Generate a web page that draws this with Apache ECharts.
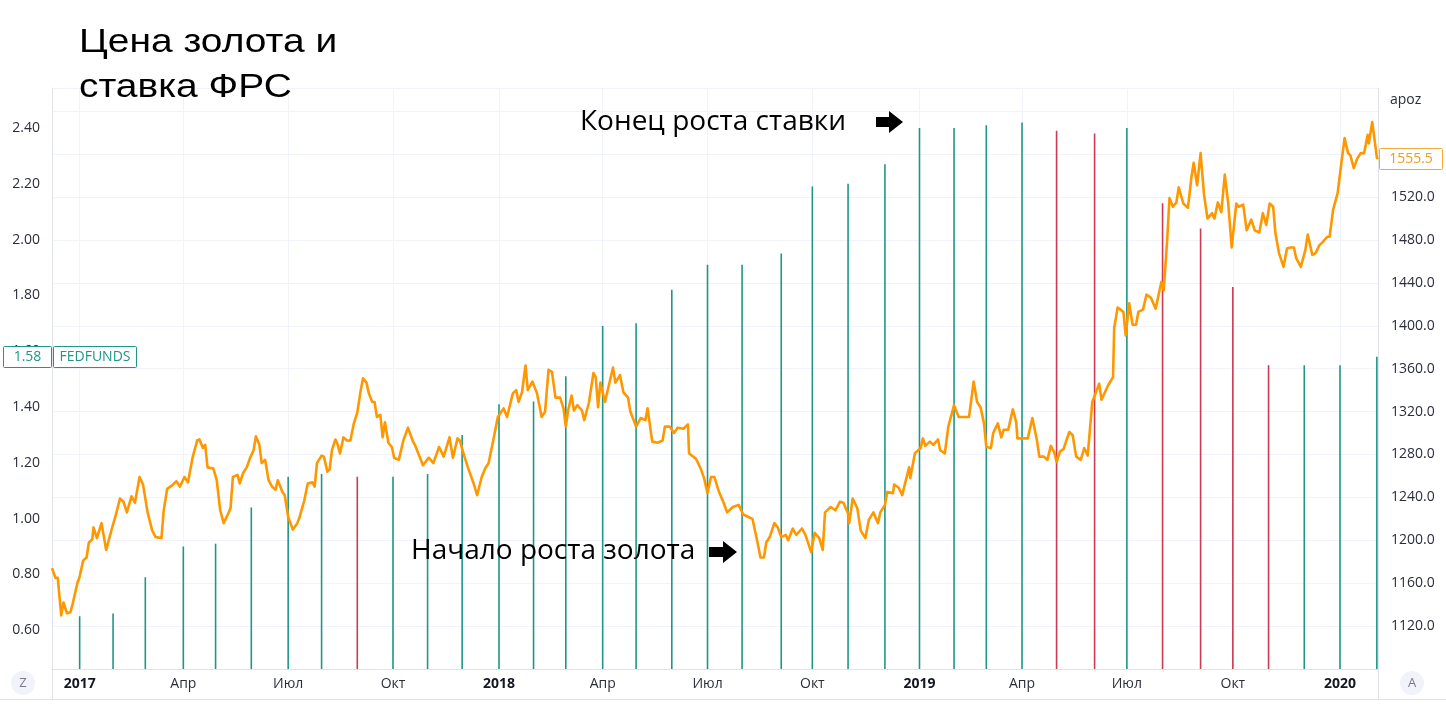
<!DOCTYPE html>
<html><head><meta charset="utf-8">
<script src="https://cdn.jsdelivr.net/npm/echarts@6/dist/echarts.min.js"></script>
<style>html,body{margin:0;padding:0;background:#fff}#c{width:1446px;height:705px}</style>
</head><body><div id="c"></div>
<script>
// FEDFUNDS monthly values (first trading day of each month)
const fedDates = [
 '2017-01-03','2017-02-01','2017-03-01','2017-04-03','2017-05-01','2017-06-01','2017-07-03','2017-08-01','2017-09-01','2017-10-02','2017-11-01','2017-12-01',
 '2018-01-02','2018-02-01','2018-03-01','2018-04-02','2018-05-01','2018-06-01','2018-07-02','2018-08-01','2018-09-04','2018-10-01','2018-11-01','2018-12-03',
 '2019-01-02','2019-02-01','2019-03-01','2019-04-01','2019-05-01','2019-06-03','2019-07-01','2019-08-01','2019-09-03','2019-10-01','2019-11-01','2019-12-02',
 '2020-01-02','2020-02-03'];
const fedValues = [
 0.65,0.66,0.79,0.90,0.91,1.04,1.15,1.16,1.15,1.15,1.16,1.30,
 1.41,1.42,1.51,1.69,1.70,1.82,1.91,1.91,1.95,2.19,2.20,2.27,
 2.40,2.40,2.41,2.42,2.39,2.38,2.40,2.13,2.04,1.83,1.55,1.55,
 1.55,1.58];
// Gold price
const goldData = [
 ['2016-12-10',1174],['2016-12-13',1165],['2016-12-15',1165],['2016-12-18',1130],['2016-12-20',1142],['2016-12-23',1132],['2016-12-26',1133],['2016-12-28',1141],
 ['2017-01-01',1160],['2017-01-03',1166],['2017-01-06',1181],['2017-01-09',1184],['2017-01-11',1198],['2017-01-14',1201],['2017-01-15',1212],['2017-01-18',1202],['2017-01-22',1216],['2017-01-26',1191],['2017-01-31',1211],
 ['2017-02-03',1222],['2017-02-07',1239],['2017-02-10',1236],['2017-02-13',1226],['2017-02-17',1241],['2017-02-20',1235],['2017-02-24',1259],['2017-02-27',1252],
 ['2017-03-03',1226],['2017-03-07',1209],['2017-03-10',1203],['2017-03-15',1202],['2017-03-17',1228],['2017-03-20',1248],['2017-03-24',1251],['2017-03-28',1255],['2017-03-31',1250],
 ['2017-04-04',1259],['2017-04-07',1254],['2017-04-11',1277],['2017-04-15',1293],['2017-04-17',1294],['2017-04-20',1286],['2017-04-22',1289],['2017-04-24',1268],['2017-04-29',1267],
 ['2017-05-02',1256],['2017-05-05',1228],['2017-05-08',1216],['2017-05-12',1225],['2017-05-14',1230],['2017-05-16',1259],['2017-05-20',1261],['2017-05-22',1253],['2017-05-25',1263],['2017-05-28',1268],['2017-05-31',1277],
 ['2017-06-03',1284],['2017-06-05',1297],['2017-06-08',1289],['2017-06-10',1272],['2017-06-13',1275],['2017-06-16',1256],['2017-06-19',1250],['2017-06-22',1247],['2017-06-24',1256],['2017-06-28',1245],['2017-06-30',1242],
 ['2017-07-03',1222],['2017-07-07',1210],['2017-07-11',1216],['2017-07-13',1222],['2017-07-17',1237],['2017-07-20',1253],['2017-07-24',1254],['2017-07-26',1250],['2017-07-28',1272],
 ['2017-08-01',1279],['2017-08-03',1278],['2017-08-06',1264],['2017-08-08',1266],['2017-08-10',1284],['2017-08-13',1294],['2017-08-15',1289],['2017-08-17',1281],['2017-08-20',1296],['2017-08-23',1293],['2017-08-26',1293],['2017-08-29',1309],
 ['2017-09-01',1319],['2017-09-04',1340],['2017-09-06',1351],['2017-09-09',1347],['2017-09-11',1337],['2017-09-14',1329],['2017-09-16',1329],['2017-09-18',1315],['2017-09-21',1317],['2017-09-23',1296],['2017-09-25',1310],['2017-09-28',1291],
 ['2017-10-01',1287],['2017-10-03',1277],['2017-10-07',1275],['2017-10-11',1293],['2017-10-15',1305],['2017-10-19',1293],['2017-10-21',1289],['2017-10-24',1281],['2017-10-28',1270],
 ['2017-11-02',1277],['2017-11-06',1272],['2017-11-11',1287],['2017-11-15',1278],['2017-11-20',1296],['2017-11-23',1277],['2017-11-27',1295],['2017-11-29',1293],
 ['2017-12-03',1278],['2017-12-06',1268],['2017-12-11',1253],['2017-12-14',1242],['2017-12-18',1259],['2017-12-21',1267],['2017-12-24',1272],['2017-12-28',1293],
 ['2018-01-01',1315],['2018-01-06',1323],['2018-01-09',1315],['2018-01-14',1337],['2018-01-17',1340],['2018-01-19',1329],['2018-01-22',1338],['2018-01-25',1363],['2018-01-27',1340],['2018-01-31',1348],
 ['2018-02-04',1337],['2018-02-08',1315],['2018-02-11',1320],['2018-02-14',1359],['2018-02-17',1357],['2018-02-20',1333],['2018-02-24',1333],['2018-02-27',1323],
 ['2018-03-01',1306],['2018-03-03',1321],['2018-03-06',1335],['2018-03-08',1321],['2018-03-11',1326],['2018-03-15',1321],['2018-03-17',1312],['2018-03-21',1328],['2018-03-25',1356],['2018-03-27',1352],['2018-03-29',1324],['2018-03-31',1347],
 ['2018-04-04',1329],['2018-04-07',1343],['2018-04-11',1361],['2018-04-13',1347],['2018-04-17',1354],['2018-04-20',1338],['2018-04-24',1333],['2018-04-26',1320],
 ['2018-05-01',1306],['2018-05-05',1314],['2018-05-09',1312],['2018-05-11',1323],['2018-05-15',1292],['2018-05-20',1291],['2018-05-24',1293],['2018-05-26',1306],['2018-05-30',1306],
 ['2018-06-03',1300],['2018-06-06',1305],['2018-06-11',1304],['2018-06-15',1308],['2018-06-16',1281],['2018-06-22',1276],['2018-06-26',1267],['2018-06-29',1258],
 ['2018-07-02',1244],['2018-07-05',1259],['2018-07-08',1259],['2018-07-12',1245],['2018-07-16',1235],['2018-07-19',1226],['2018-07-24',1231],['2018-07-29',1233],
 ['2018-08-02',1224],['2018-08-06',1222],['2018-08-10',1220],['2018-08-14',1200],['2018-08-17',1184],['2018-08-20',1184],['2018-08-22',1198],['2018-08-25',1203],['2018-08-29',1216],
 ['2018-09-01',1212],['2018-09-04',1203],['2018-09-08',1205],['2018-09-10',1200],['2018-09-14',1211],['2018-09-17',1205],['2018-09-22',1211],['2018-09-25',1205],['2018-09-30',1189],
 ['2018-10-03',1207],['2018-10-07',1202],['2018-10-10',1191],['2018-10-12',1226],['2018-10-17',1231],['2018-10-21',1228],['2018-10-25',1236],['2018-10-28',1235],
 ['2018-11-01',1225],['2018-11-02',1216],['2018-11-05',1239],['2018-11-09',1230],['2018-11-12',1209],['2018-11-16',1202],['2018-11-19',1219],['2018-11-23',1226],['2018-11-27',1216],['2018-11-29',1226],
 ['2018-12-03',1233],['2018-12-05',1245],['2018-12-10',1244],['2018-12-11',1252],['2018-12-15',1249],['2018-12-18',1242],['2018-12-20',1251],['2018-12-24',1268],['2018-12-25',1258],['2018-12-29',1281],
 ['2019-01-03',1286],['2019-01-05',1295],['2019-01-07',1288],['2019-01-11',1292],['2019-01-14',1289],['2019-01-18',1294],['2019-01-20',1284],['2019-01-24',1281],['2019-01-27',1306],
 ['2019-02-01',1326],['2019-02-05',1315],['2019-02-09',1315],['2019-02-14',1315],['2019-02-18',1348],['2019-02-21',1329],['2019-02-24',1324],['2019-02-27',1309],
 ['2019-03-01',1287],['2019-03-05',1286],['2019-03-07',1300],['2019-03-11',1309],['2019-03-14',1296],['2019-03-16',1303],['2019-03-20',1303],['2019-03-24',1322],['2019-03-27',1310],['2019-03-28',1295],
 ['2019-04-02',1295],['2019-04-06',1295],['2019-04-10',1314],['2019-04-14',1293],['2019-04-16',1278],['2019-04-20',1278],['2019-04-23',1275],['2019-04-26',1288],['2019-04-29',1282],
 ['2019-05-01',1273],['2019-05-04',1283],['2019-05-07',1285],['2019-05-12',1301],['2019-05-15',1298],['2019-05-18',1278],['2019-05-22',1275],['2019-05-25',1286],['2019-05-28',1279],
 ['2019-06-01',1329],['2019-06-07',1346],['2019-06-09',1331],['2019-06-15',1345],['2019-06-19',1352],['2019-06-20',1398],['2019-06-23',1417],['2019-06-28',1413],['2019-06-30',1391],
 ['2019-07-03',1421],['2019-07-06',1401],['2019-07-09',1401],['2019-07-11',1413],['2019-07-15',1415],['2019-07-18',1429],['2019-07-22',1426],['2019-07-26',1416],['2019-07-31',1441],
 ['2019-08-02',1433],['2019-08-05',1480],['2019-08-07',1519],['2019-08-10',1511],['2019-08-13',1515],['2019-08-15',1529],['2019-08-19',1514],['2019-08-23',1510],['2019-08-26',1538],['2019-08-28',1552],['2019-08-31',1531],
 ['2019-09-03',1561],['2019-09-06',1522],['2019-09-09',1500],['2019-09-13',1505],['2019-09-15',1500],['2019-09-18',1515],['2019-09-21',1506],['2019-09-24',1541],['2019-09-27',1514],['2019-09-30',1473],
 ['2019-10-04',1514],['2019-10-06',1511],['2019-10-10',1513],['2019-10-13',1489],['2019-10-17',1499],['2019-10-20',1489],['2019-10-24',1487],['2019-10-27',1505],['2019-10-30',1494],
 ['2019-11-02',1514],['2019-11-05',1511],['2019-11-07',1486],['2019-11-10',1468],['2019-11-14',1455],['2019-11-17',1472],['2019-11-20',1473],['2019-11-23',1473],['2019-11-25',1463],['2019-11-29',1455],
 ['2019-12-03',1471],['2019-12-05',1485],['2019-12-09',1466],['2019-12-12',1468],['2019-12-15',1475],['2019-12-18',1478],['2019-12-22',1483],['2019-12-24',1483],['2019-12-27',1508],['2019-12-31',1524],
 ['2020-01-03',1550],['2020-01-06',1575],['2020-01-09',1561],['2020-01-11',1559],['2020-01-14',1547],['2020-01-17',1556],['2020-01-20',1561],['2020-01-23',1561],['2020-01-26',1578],['2020-01-27',1570],['2020-01-30',1590],['2020-01-31',1589],['2020-02-03',1557],['2020-02-04',1555.5]
];
const quarterTicks = ['2017-01-03','2017-04-03','2017-07-03','2017-10-02','2018-01-02','2018-04-02','2018-07-02','2018-10-01','2019-01-02','2019-04-01','2019-07-01','2019-10-01','2020-01-02'];
const monthNamesRu = ['Янв','Фев','Мар','Апр','Май','Июн','Июл','Авг','Сен','Окт','Ноя','Дек'];
const fedTicks = [0.60,0.80,1.00,1.20,1.40,1.60,1.80,2.00,2.20,2.40];
const fedLast = 1.58, goldLast = 1555.5;

const TEAL = '#1f9688', RED = '#cf3a52', ORANGE = '#ff9800', TXT = '#2a2e39';
const ts = s => new Date(s + 'T00:00:00').getTime();

const barData = fedDates.map((d, i) => ({
  value: [ts(d), fedValues[i]],
  itemStyle: { color: (i === 0 || fedValues[i] >= fedValues[i - 1]) ? TEAL : RED }
}));
const goldSeries = goldData.map(p => [ts(p[0]), p[1]]);
const qTicks = quarterTicks.map(ts);

const chart = echarts.init(document.getElementById('c'), null, { renderer: 'canvas' });
chart.setOption({
  animation: false,
  backgroundColor: '#ffffff',
  grid: { left: 52, right: 68, top: 88, bottom: 36, containLabel: false },
  xAxis: {
    type: 'value', min: ts('2016-12-10'), max: ts('2020-02-04'),
    axisLine: { show: true, onZero: false, lineStyle: { color: '#e0e3eb' } },
    axisTick: { show: false, customValues: qTicks },
    splitLine: { show: true, lineStyle: { color: '#f0f3fa', width: 1 } },
    axisLabel: {
      customValues: qTicks, hideOverlap: false,
      color: TXT, fontSize: 14, fontFamily: 'Open Sans', margin: 8,
      formatter: v => { const d = new Date(v); return d.getMonth() === 0 ? '{y|' + d.getFullYear() + '}' : monthNamesRu[d.getMonth()]; },
      rich: { y: { fontWeight: 'bold', fontSize: 14, color: '#131722', fontFamily: 'Open Sans' } }
    }
  },
  yAxis: [
    {
      type: 'value', position: 'left', min: 0.4609, max: 2.5434,
      splitLine: { show: false },
      axisLine: { show: true, lineStyle: { color: '#e0e3eb' } },
      axisTick: { show: false },
      axisLabel: { customValues: fedTicks, formatter: v => v.toFixed(2), color: TXT, fontSize: 14, fontFamily: 'Open Sans', margin: 12 }
    },
    {
      type: 'value', position: 'right', min: 1080, max: 1621.7, interval: 40,
      splitLine: { show: true, lineStyle: { color: '#f0f3fa', width: 1 } },
      axisLine: { show: true, lineStyle: { color: '#e0e3eb' } },
      axisTick: { show: false },
      axisLabel: { formatter: v => (v >= 1120 && v <= 1520) ? v.toFixed(1) : '', color: TXT, fontSize: 14, fontFamily: 'Open Sans', margin: 13 }
    }
  ],
  series: [
    { type: 'bar', name: 'FEDFUNDS', xAxisIndex: 0, yAxisIndex: 0, barWidth: 1.6, data: barData, clip: true, silent: true, z: 2 },
    { type: 'line', name: 'Gold', xAxisIndex: 0, yAxisIndex: 1, data: goldSeries, symbol: 'none', showSymbol: false,
      lineStyle: { color: ORANGE, width: 2.6, join: 'round' }, silent: true, z: 3 }
  ]
});

const yFed = chart.convertToPixel({ yAxisIndex: 0 }, fedLast);
const yGold = chart.convertToPixel({ yAxisIndex: 1 }, goldLast);

chart.setOption({
  graphic: [
    { type: 'text', x: 79, y: 43, scaleX: 1.18, z: 100, style: { text: 'Цена золота и', font: '33px "Liberation Sans", Arial', fill: '#000', verticalAlign: 'middle' } },
    { type: 'text', x: 79, y: 88, scaleX: 1.18, z: 100, style: { text: 'ставка ФРС', font: '33px "Liberation Sans", Arial', fill: '#000', verticalAlign: 'middle' } },
    { type: 'text', x: 580, y: 122, z: 100, style: { text: 'Конец роста ставки', font: '28px "Open Sans"', fill: '#000', verticalAlign: 'middle' } },
    { type: 'polygon', z: 100, shape: { points: [[876,117],[889,117],[889,111],[903,122],[889,133],[889,127],[876,127]] }, style: { fill: '#000' } },
    { type: 'text', x: 411, y: 551, z: 100, style: { text: 'Начало роста золота', font: '28px "Open Sans"', fill: '#000', verticalAlign: 'middle' } },
    { type: 'polygon', z: 100, shape: { points: [[709,547],[723,547],[723,541],[737,552],[723,563],[723,557],[709,557]] }, style: { fill: '#000' } },
    { type: 'rect', z: 100, shape: { x: 3.5, y: Math.round(yFed) - 10.5, width: 48, height: 21, r: 1 }, style: { fill: '#fff', stroke: TEAL, lineWidth: 1 } },
    { type: 'text', z: 101, x: 27.5, y: yFed, style: { text: fedLast.toFixed(2), font: '14px "Open Sans"', fill: TEAL, align: 'center', verticalAlign: 'middle' } },
    { type: 'rect', z: 100, shape: { x: 53.5, y: Math.round(yFed) - 10.5, width: 83, height: 21, r: 1 }, style: { fill: '#fff', stroke: TEAL, lineWidth: 1 } },
    { type: 'text', z: 101, x: 95, y: yFed, style: { text: 'FEDFUNDS', font: '14px "Open Sans"', fill: TEAL, align: 'center', verticalAlign: 'middle' } },
    { type: 'rect', z: 100, shape: { x: 1379.5, y: Math.round(yGold) - 10.5, width: 63, height: 21, r: 1 }, style: { fill: '#fff', stroke: '#f2a93b', lineWidth: 1 } },
    { type: 'text', z: 101, x: 1411, y: yGold, style: { text: goldLast.toFixed(1), font: '14px "Open Sans"', fill: '#f29a1f', align: 'center', verticalAlign: 'middle' } },
    { type: 'text', z: 100, x: 1390, y: 100, style: { text: 'apoz', font: '14px "Open Sans"', fill: TXT, verticalAlign: 'middle' } },
    { type: 'line', z: 50, shape: { x1: 0, y1: 699.5, x2: 1446, y2: 699.5 }, style: { stroke: '#e0e3eb', lineWidth: 1 } },
    { type: 'line', z: 50, shape: { x1: 52.5, y1: 669, x2: 52.5, y2: 700 }, style: { stroke: '#e0e3eb', lineWidth: 1 } },
    { type: 'line', z: 50, shape: { x1: 1378.5, y1: 669, x2: 1378.5, y2: 700 }, style: { stroke: '#e0e3eb', lineWidth: 1 } },
    { type: 'circle', z: 50, shape: { cx: 23, cy: 683, r: 12 }, style: { fill: '#f0f3fa' } },
    { type: 'text', z: 51, x: 23, y: 683, style: { text: 'Z', font: '13px "Open Sans"', fill: '#787b86', align: 'center', verticalAlign: 'middle' } },
    { type: 'circle', z: 50, shape: { cx: 1412, cy: 683, r: 12 }, style: { fill: '#f0f3fa' } },
    { type: 'text', z: 51, x: 1412, y: 683, style: { text: 'A', font: '13px "Open Sans"', fill: '#787b86', align: 'center', verticalAlign: 'middle' } }
  ]
});
</script></body></html>
